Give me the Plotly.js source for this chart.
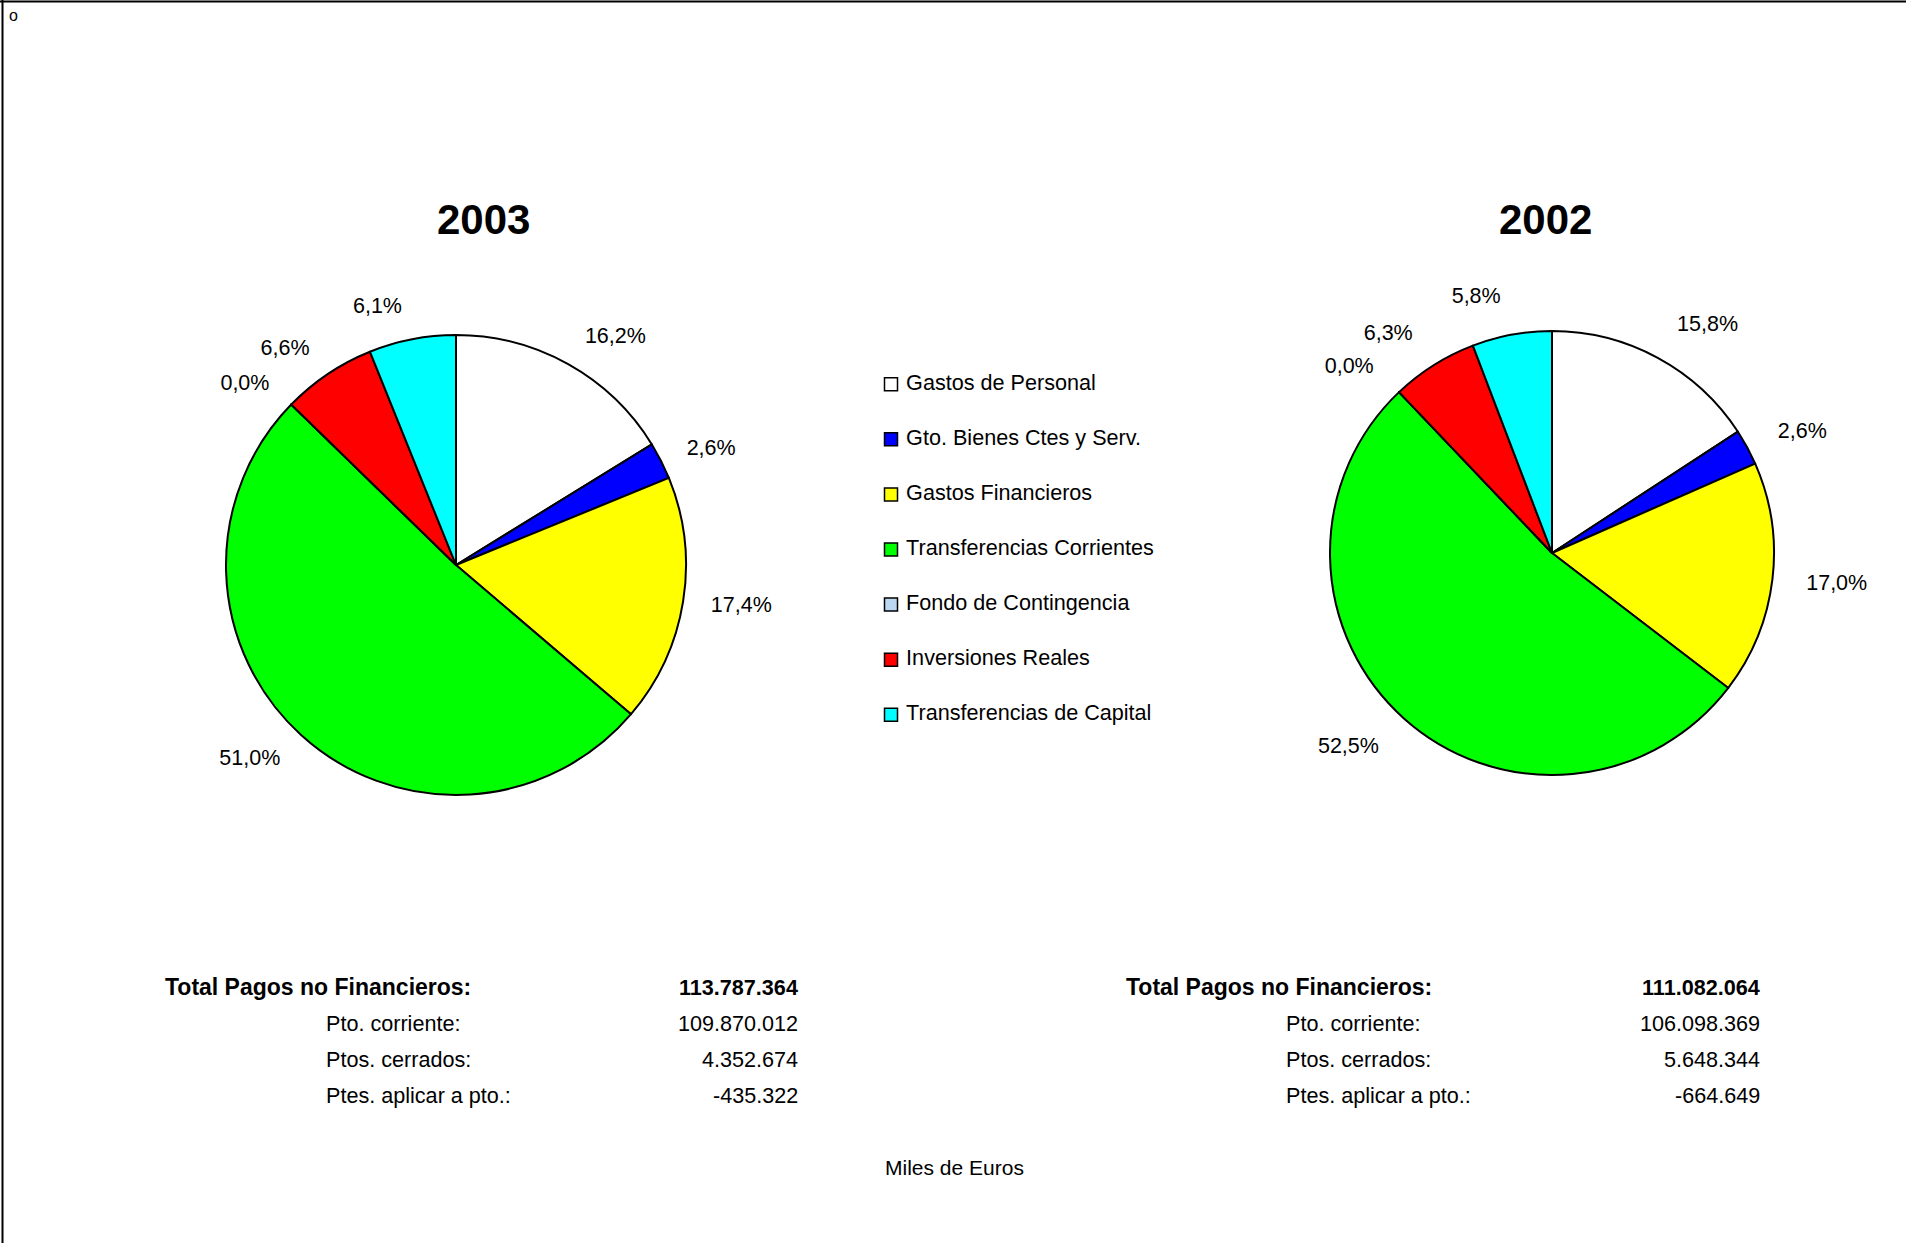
<!DOCTYPE html>
<html>
<head>
<meta charset="utf-8">
<script src="https://cdn.plot.ly/plotly-3.0.1.min.js"></script>
<style>
  html, body { margin: 0; padding: 0; background: #ffffff; }
  #chart { width: 1906px; height: 1243px; }
</style>
</head>
<body>
<div id="chart"></div>
<script>
// ---- Data ----
var categories = [
  'Gastos de Personal',
  'Gto. Bienes Ctes y Serv.',
  'Gastos Financieros',
  'Transferencias Corrientes',
  'Fondo de Contingencia',
  'Inversiones Reales',
  'Transferencias de Capital'
];
var sliceColors = ['#FFFFFF', '#0000FF', '#FFFF00', '#00FF00', '#BDD6F2', '#FF0000', '#00FFFF'];
var pct2003 = [16.2, 2.6, 17.4, 51.0, 0.0, 6.6, 6.1];
var pct2002 = [15.8, 2.6, 17.0, 52.5, 0.0, 6.3, 5.8];
var years = ['2003', '2002'];

var tableLabels = ['Total Pagos no Financieros:', 'Pto. corriente:', 'Ptos. cerrados:', 'Ptes. aplicar a pto.:'];
var table2003 = [113787364, 109870012, 4352674, -435322];
var table2002 = [111082064, 106098369, 5648344, -664649];
var unitsNote = 'Miles de Euros';

// ---- Helpers ----
var FONT = 'Liberation Sans, Arial, sans-serif';
function fmtPct(v) { return v.toFixed(1).replace('.', ',') + '%'; }
function fmtThousands(n) {
  var s = Math.abs(n).toString().replace(/\B(?=(\d{3})+(?!\d))/g, '.');
  return (n < 0 ? '-' : '') + s;
}
var W = 1906, H = 1243;
function px(x) { return x / W; }
function py(y) { return 1 - y / H; }
function circleDomain(cx, cy, r) {
  return { x: [px(cx - r), px(cx + r)], y: [py(cy + r), py(cy - r)] };
}

// visible pie (no text)
function pieTrace(vals, dom) {
  return {
    type: 'pie',
    values: vals,
    labels: categories,
    textinfo: 'none',
    sort: false,
    direction: 'clockwise',
    rotation: 0,
    showlegend: false,
    hoverinfo: 'label+percent',
    marker: { colors: sliceColors, line: { color: '#000000', width: 2 } },
    domain: dom
  };
}
// transparent, slightly larger pie carrying the outside percentage labels
function labelTrace(vals, dom) {
  return {
    type: 'pie',
    values: vals,
    labels: categories,
    text: vals.map(fmtPct),
    textinfo: 'text',
    textposition: 'outside',
    sort: false,
    direction: 'clockwise',
    rotation: 0,
    showlegend: false,
    hoverinfo: 'skip',
    marker: { colors: categories.map(function () { return 'rgba(0,0,0,0)'; }), line: { width: 0 } },
    textfont: { family: FONT, size: 21.5, color: '#000000' },
    domain: dom
  };
}

var pie2003 = pieTrace(pct2003, circleDomain(456, 565, 230));
var lab2003 = labelTrace(pct2003, circleDomain(456, 565, 252));
var pie2002 = pieTrace(pct2002, circleDomain(1552, 553, 222));
var lab2002 = labelTrace(pct2002, circleDomain(1552, 553, 250));

// legend drawn as a scatter on hidden axes
var NBSP = '\u00a0';
var legendTrace = {
  type: 'scatter',
  mode: 'markers+text',
  x: categories.map(function () { return 0; }),
  y: categories,
  text: categories.map(function (c) { return NBSP + c; }),
  textposition: 'middle right',
  textfont: { family: FONT, size: 21.6, color: '#000000' },
  marker: { symbol: 'square', size: 13, color: sliceColors, line: { color: '#000000', width: 1.5 } },
  hoverinfo: 'text',
  showlegend: false,
  cliponaxis: false,
  xaxis: 'x',
  yaxis: 'y'
};

// ---- Annotations ----
var annotations = [];
annotations.push({ xref: 'paper', yref: 'paper', x: px(483), y: py(219), text: '<b>' + years[0] + '</b>',
  showarrow: false, xanchor: 'center', yanchor: 'middle', font: { family: FONT, size: 42, color: '#000' } });
annotations.push({ xref: 'paper', yref: 'paper', x: px(1545), y: py(219), text: '<b>' + years[1] + '</b>',
  showarrow: false, xanchor: 'center', yanchor: 'middle', font: { family: FONT, size: 42, color: '#000' } });

var rowY = [987, 1023.5, 1059, 1095];
function addTable(vals, labelX0, labelX1, valueX) {
  for (var i = 0; i < tableLabels.length; i++) {
    var bold = (i === 0);
    annotations.push({ xref: 'paper', yref: 'paper', x: px(bold ? labelX0 : labelX1), y: py(rowY[i]),
      text: bold ? '<b>' + tableLabels[i] + '</b>' : tableLabels[i],
      showarrow: false, xanchor: 'left', yanchor: 'middle', borderpad: 0,
      font: { family: FONT, size: bold ? 23 : 21.6, color: '#000' } });
    annotations.push({ xref: 'paper', yref: 'paper', x: px(valueX), y: py(rowY[i]),
      text: bold ? '<b>' + fmtThousands(vals[i]) + '</b>' : fmtThousands(vals[i]),
      showarrow: false, xanchor: 'right', yanchor: 'middle', borderpad: 0,
      font: { family: FONT, size: 21.6, color: '#000' } });
  }
}
addTable(table2003, 164, 324.5, 798.5);
addTable(table2002, 1124.5, 1284.5, 1760.5);

annotations.push({ xref: 'paper', yref: 'paper', x: px(954), y: py(1167), text: unitsNote,
  showarrow: false, xanchor: 'center', yanchor: 'middle', font: { family: FONT, size: 21, color: '#000' } });
annotations.push({ xref: 'paper', yref: 'paper', x: px(7), y: py(15), text: 'o',
  showarrow: false, xanchor: 'left', yanchor: 'middle', font: { family: FONT, size: 16, color: '#000' } });

var layout = {
  width: W, height: H,
  margin: { l: 0, r: 0, t: 0, b: 0, pad: 0 },
  paper_bgcolor: '#ffffff',
  plot_bgcolor: 'rgba(0,0,0,0)',
  showlegend: false,
  font: { family: FONT, color: '#000' },
  xaxis: { domain: [px(891), px(1200)], range: [0, 1], visible: false, fixedrange: true },
  yaxis: { domain: [py(714.5 + 27.6), py(384.5 - 27.6)], type: 'category', autorange: 'reversed', visible: false, fixedrange: true },
  annotations: annotations,
  shapes: [
    { type: 'line', xref: 'paper', yref: 'paper', x0: 0, x1: 1, y0: py(1.5), y1: py(1.5), line: { color: '#000', width: 2 } },
    { type: 'line', xref: 'paper', yref: 'paper', x0: px(2.5), x1: px(2.5), y0: 0, y1: 1, line: { color: '#000', width: 2 } }
  ]
};

Plotly.newPlot('chart', [pie2003, pie2002, lab2003, lab2002, legendTrace], layout, { displayModeBar: false, staticPlot: true });
</script>
</body>
</html>
